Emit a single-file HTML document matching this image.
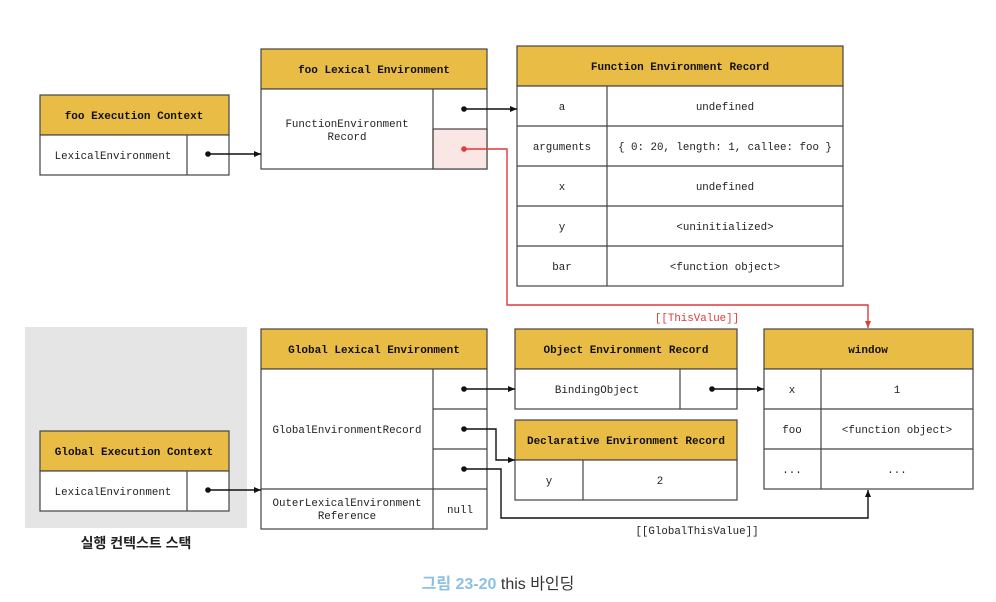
<!DOCTYPE html>
<html><head><meta charset="utf-8"><style>
html,body{margin:0;padding:0;background:#fff;}
svg{display:block}
text{font-family:"Liberation Mono","DejaVu Sans Mono",monospace;font-size:10.8px;fill:#222;}
.h{font-weight:bold;font-size:11px;fill:#111}
.k{font-family:"Liberation Sans","Noto Sans CJK KR",sans-serif;}
</style></head><body>
<svg width="996" height="602" viewBox="0 0 996 602" xmlns="http://www.w3.org/2000/svg">
<defs>
<marker id="a" markerWidth="8" markerHeight="8" refX="7" refY="4" orient="auto" markerUnits="userSpaceOnUse"><path d="M0,1 L7,4 L0,7 z" fill="#111"/></marker>
<marker id="r" markerWidth="8" markerHeight="8" refX="7" refY="4" orient="auto" markerUnits="userSpaceOnUse"><path d="M0,1 L7,4 L0,7 z" fill="#e03a3a"/></marker>
</defs>
<g stroke="#444" stroke-width="1.2" fill="#fff">
<rect x="25" y="327" width="222" height="201" fill="#e6e5e5" stroke="none"/>
<rect x="40" y="95" width="189" height="40" fill="#e9bc45"/>
<rect x="40" y="135" width="189" height="40"/>
<line x1="187" y1="135" x2="187" y2="175"/>
<rect x="261" y="49" width="226" height="40" fill="#e9bc45"/>
<rect x="261" y="89" width="226" height="80"/>
<rect x="433" y="129" width="54" height="40" fill="#fae6e4"/>
<line x1="433" y1="89" x2="433" y2="169"/>
<rect x="517" y="46" width="326" height="40" fill="#e9bc45"/>
<rect x="517" y="86" width="326" height="200"/>
<line x1="517" y1="126" x2="843" y2="126"/>
<line x1="517" y1="166" x2="843" y2="166"/>
<line x1="517" y1="206" x2="843" y2="206"/>
<line x1="517" y1="246" x2="843" y2="246"/>
<line x1="607" y1="86" x2="607" y2="286"/>
<rect x="40" y="431" width="189" height="40" fill="#e9bc45"/>
<rect x="40" y="471" width="189" height="40"/>
<line x1="187" y1="471" x2="187" y2="511"/>
<rect x="261" y="329" width="226" height="40" fill="#e9bc45"/>
<rect x="261" y="369" width="226" height="160"/>
<line x1="433" y1="369" x2="433" y2="529"/>
<line x1="433" y1="409" x2="487" y2="409"/>
<line x1="433" y1="449" x2="487" y2="449"/>
<line x1="261" y1="489" x2="487" y2="489"/>
<rect x="515" y="329" width="222" height="40" fill="#e9bc45"/>
<rect x="515" y="369" width="222" height="40"/>
<line x1="680" y1="369" x2="680" y2="409"/>
<rect x="515" y="420" width="222" height="40" fill="#e9bc45"/>
<rect x="515" y="460" width="222" height="40"/>
<line x1="583" y1="460" x2="583" y2="500"/>
<rect x="764" y="329" width="209" height="40" fill="#e9bc45"/>
<rect x="764" y="369" width="209" height="120"/>
<line x1="764" y1="409" x2="973" y2="409"/>
<line x1="764" y1="449" x2="973" y2="449"/>
<line x1="821" y1="369" x2="821" y2="489"/>
</g>
<g stroke="#111" stroke-width="1.4" fill="none">
<path d="M208,154 H261" marker-end="url(#a)"/>
<path d="M464,109 H517" marker-end="url(#a)"/>
<path d="M208,490 H261" marker-end="url(#a)"/>
<path d="M464,389 H515" marker-end="url(#a)"/>
<path d="M712,389 H764" marker-end="url(#a)"/>
<path d="M464,429 H496 V460 H515" marker-end="url(#a)"/>
<path d="M464,469 H501 V518 H868 V490" marker-end="url(#a)"/>
</g>
<g fill="#111">
<circle cx="208" cy="154" r="2.8"/><circle cx="464" cy="109" r="2.8"/>
<circle cx="208" cy="490" r="2.8"/><circle cx="464" cy="389" r="2.8"/>
<circle cx="712" cy="389" r="2.8"/><circle cx="464" cy="429" r="2.8"/>
<circle cx="464" cy="469" r="2.8"/>
</g>
<path d="M464,149 H507 V305 H868 V328" stroke="#e03a3a" stroke-width="1.4" fill="none" marker-end="url(#r)"/>
<circle cx="464" cy="149" r="2.8" fill="#e03a3a"/>
<g text-anchor="middle">
<text class="h" x="134" y="119">foo Execution Context</text>
<text x="113" y="159">LexicalEnvironment</text>
<text class="h" x="374" y="73">foo Lexical Environment</text>
<text x="347" y="127">FunctionEnvironment</text>
<text x="347" y="140">Record</text>
<text class="h" x="680" y="70">Function Environment Record</text>
<text x="562" y="110">a</text><text x="725" y="110">undefined</text>
<text x="562" y="150">arguments</text><text x="725" y="150">{ 0: 20, length: 1, callee: foo }</text>
<text x="562" y="190">x</text><text x="725" y="190">undefined</text>
<text x="562" y="230">y</text><text x="725" y="230">&lt;uninitialized&gt;</text>
<text x="562" y="270">bar</text><text x="725" y="270">&lt;function object&gt;</text>
<text x="697" y="321" style="fill:#e03a3a">[[ThisValue]]</text>
<text class="h" x="134" y="455">Global Execution Context</text>
<text x="113" y="495">LexicalEnvironment</text>
<text class="h" x="374" y="353">Global Lexical Environment</text>
<text x="347" y="433">GlobalEnvironmentRecord</text>
<text x="347" y="506">OuterLexicalEnvironment</text>
<text x="347" y="519">Reference</text>
<text x="460" y="513">null</text>
<text class="h" x="626" y="353">Object Environment Record</text>
<text x="597" y="393">BindingObject</text>
<text class="h" x="626" y="444">Declarative Environment Record</text>
<text x="549" y="484">y</text><text x="660" y="484">2</text>
<text class="h" x="868" y="353">window</text>
<text x="792" y="393">x</text><text x="897" y="393">1</text>
<text x="792" y="433">foo</text><text x="897" y="433">&lt;function object&gt;</text>
<text x="792" y="473">...</text><text x="897" y="473">...</text>
<text x="697" y="534">[[GlobalThisValue]]</text>
<text class="k" x="136" y="548" style="font-size:14px;font-weight:bold;fill:#222">실행 컨텍스트 스택</text>
<text class="k" x="498" y="589" style="font-size:16px"><tspan style="fill:#8cc0e6;font-weight:bold">그림 23-20</tspan><tspan style="fill:#333"> this 바인딩</tspan></text>
</g>
</svg>
</body></html>
